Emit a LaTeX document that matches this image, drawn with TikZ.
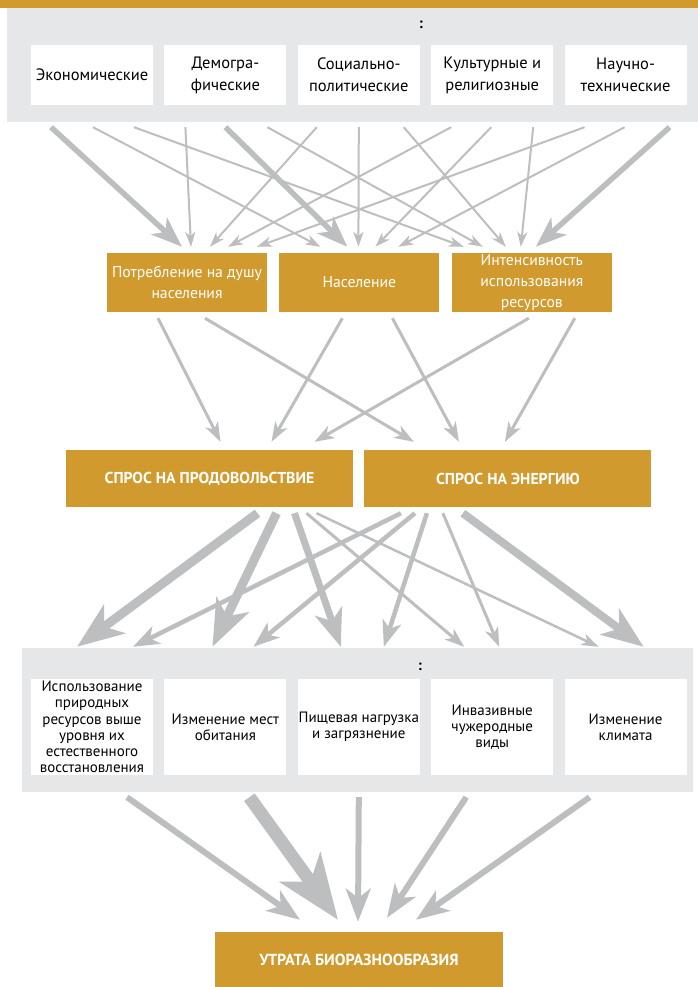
\documentclass[tikz,border=0pt]{standalone}
\usepackage{fontspec}
\setmainfont{PT Sans}
\usetikzlibrary{positioning, arrows.meta, calc}

\definecolor{gold}{RGB}{208,154,46}
\definecolor{panelgray}{RGB}{230,231,232}
\definecolor{arrowgray}{RGB}{188,190,192}

\tikzset{
    panel/.style={fill=panelgray, inner sep=0pt, anchor=north west},
    card/.style={fill=white, inner sep=0pt, minimum width=122pt, align=center},
    topcard/.style={card, minimum height=60pt, font=\fontsize{16.5}{22}\selectfont},
    lowcard/.style={card, minimum height=96pt, font=\fontsize{15}{16.2}\selectfont},
    driver/.style={fill=gold, text=white, inner sep=0pt, minimum width=160pt, minimum height=59pt, align=center, font=\fontsize{15.7}{21}\selectfont},
    demand/.style={fill=gold, text=white, inner sep=0pt, minimum width=287pt, minimum height=57pt, font=\bfseries\fontsize{15.8}{16}\selectfont},
    flow/.style={draw=arrowgray, line width=#1, -{Stealth[length=6pt 4.5, width=3pt 3.6, inset=2pt 1.2]}},
}

\begin{document}
\begin{tikzpicture}[x=1pt, y=-1pt]
    \useasboundingbox (0,0) rectangle (698,987);

    % top: underlying drivers
    \node[fill=gold, inner sep=0pt, minimum width=698pt, minimum height=8pt, anchor=north west] (bar) at (0,0) {};
    \node[panel, minimum width=691pt, minimum height=114pt] (toppanel) at (7,8) {};
    \node[font=\bfseries\fontsize{15}{15}\selectfont] (topcolon) at (421,25) {:};

    \node[topcard] (econ) at (92,75) {Экономические};
    \node[topcard, right=11pt of econ] (demog) {Демогра-\\фические};
    \node[topcard, right=11pt of demog] (social) {Социально-\\политические};
    \node[topcard, right=11pt of social] (culture) {Культурные и\\религиозные};
    \node[topcard, right=11pt of culture] (science) {Научно-\\технические};

    % middle: direct drivers
    \node[driver] (percap) at (187,282.5) {Потребление на душу\\населения};
    \node[driver, right=12pt of percap] (population) {Население};
    \node[driver, right=12pt of population] (intensity) {Интенсивность\\использования\\ресурсов};

    \node[demand] (food) at (209.5,478.5) {СПРОС НА ПРОДОВОЛЬСТВИЕ};
    \node[demand, right=11pt of food] (energy) {СПРОС НА ЭНЕРГИЮ};

    % bottom: pressures
    \node[panel, minimum width=671pt, minimum height=144pt] (lowpanel) at (22,648) {};
    \node[font=\bfseries\fontsize{15}{15}\selectfont] (lowcolon) at (420,667) {:};

    \node[lowcard] (overuse) at (92,727) {Использование\\природных\\ресурсов выше\\уровня их\\естественного\\восстановления};
    \node[lowcard, right=11pt of overuse] (habitat) {Изменение мест\\обитания};
    \node[lowcard, right=11pt of habitat] (pollution) {Пищевая нагрузка\\и загрязнение};
    \node[lowcard, right=11pt of pollution] (invasive) {Инвазивные\\чужеродные\\виды};
    \node[lowcard, right=11pt of invasive] (climate) {Изменение\\климата};

    \node[demand, minimum width=288pt, minimum height=55pt, font=\bfseries\fontsize{16}{16}\selectfont] (loss) at (359,959.5) {УТРАТА БИОРАЗНООБРАЗИЯ};

    % top cards -> direct drivers
    \draw[flow=5.5pt] ($(econ.south)+(-41,22)$) -- ($(percap.north)+(-5,-6)$);
    \draw[flow=2pt] ($(econ.south)+(1,22)$) -- ($(population.north)+(-39,-6)$);
    \draw[flow=2pt] ($(econ.south)+(42,22)$) -- ($(intensity.north)+(-68,-6)$);

    \draw[flow=2pt] ($(demog.south)+(-40,22)$) -- ($(percap.north)+(4,-6)$);
    \draw[flow=5.5pt] ($(demog.south)+(0,22)$) -- ($(population.north)+(-12,-6)$);
    \draw[flow=2pt] ($(demog.south)+(42,22)$) -- ($(intensity.north)+(-49,-6)$);

    \draw[flow=2pt] ($(social.south)+(-42,22)$) -- ($(percap.north)+(23,-6)$);
    \draw[flow=2pt] ($(social.south)+(0,22)$) -- ($(population.north)+(-1,-6)$);
    \draw[flow=2pt] ($(social.south)+(45,22)$) -- ($(intensity.north)+(-26,-6)$);

    \draw[flow=2pt] ($(culture.south)+(-41,22)$) -- ($(percap.north)+(41,-6)$);
    \draw[flow=2pt] ($(culture.south)+(-1,22)$) -- ($(population.north)+(16,-6)$);
    \draw[flow=2pt] ($(culture.south)+(41,22)$) -- ($(intensity.north)+(-11,-6)$);

    \draw[flow=2pt] ($(science.south)+(-41,22)$) -- ($(percap.north)+(70,-6)$);
    \draw[flow=2pt] ($(science.south)+(-1,22)$) -- ($(population.north)+(39,-6)$);
    \draw[flow=5.5pt] ($(science.south)+(44,22)$) -- ($(intensity.north)+(4,-6)$);

    % direct drivers -> demand
    \draw[flow=3pt] ($(percap.south)+(-29,6)$) -- ($(food.north)+(11,-8)$);
    \draw[flow=3pt] ($(percap.south)+(18,6)$) -- ($(energy.north)+(-94,-8)$);
    \draw[flow=3pt] ($(population.south)+(-17,6)$) -- ($(food.north)+(62,-8)$);
    \draw[flow=3pt] ($(population.south)+(33,6)$) -- ($(energy.north)+(-49,-8)$);
    \draw[flow=3pt] ($(intensity.south)+(-3,6)$) -- ($(food.north)+(105,-8)$);
    \draw[flow=3pt] ($(intensity.south)+(43,6)$) -- ($(energy.north)+(-3,-8)$);

    % demand -> pressures
    \draw[flow=9pt] ($(food.south)+(48,6)$) -- ($(overuse.north)+(-15,-32)$);
    \draw[flow=9pt] ($(food.south)+(67,6)$) -- ($(habitat.north)+(-13,-32)$);
    \draw[flow=7pt] ($(food.south)+(85,6)$) -- ($(pollution.north)+(-18,-32)$);
    \draw[flow=3pt] ($(food.south)+(97,6)$) -- ($(invasive.north)+(-28,-32)$);
    \draw[flow=2.5pt] ($(food.south)+(107,6)$) -- ($(climate.north)+(-27,-32)$);

    \draw[flow=4.5pt] ($(energy.south)+(-107,6)$) -- ($(overuse.north)+(41,-32)$);
    \draw[flow=4.5pt] ($(energy.south)+(-93,6)$) -- ($(habitat.north)+(28,-32)$);
    \draw[flow=4.5pt] ($(energy.south)+(-81,6)$) -- ($(pollution.north)+(25,-32)$);
    \draw[flow=3pt] ($(energy.south)+(-65,6)$) -- ($(invasive.north)+(7,-32)$);
    \draw[flow=8pt] ($(energy.south)+(-45,6)$) -- ($(climate.north)+(18,-32)$);

    % pressures -> loss
    \draw[flow=6pt] ($(overuse.south)+(35,22)$) -- ($(loss.north)+(-59,-12)$);
    \draw[flow=13pt] ($(habitat.south)+(24,22)$) -- ($(loss.north)+(-21,-12)$);
    \draw[flow=6pt] ($(pollution.south)+(0,22)$) -- ($(loss.north)+(-1,-10)$);
    \draw[flow=6pt] ($(invasive.south)+(-26,22)$) -- ($(loss.north)+(28,-14)$);
    \draw[flow=6pt] ($(climate.south)+(-36,22)$) -- ($(loss.north)+(57,-12)$);
\end{tikzpicture}
\end{document}
